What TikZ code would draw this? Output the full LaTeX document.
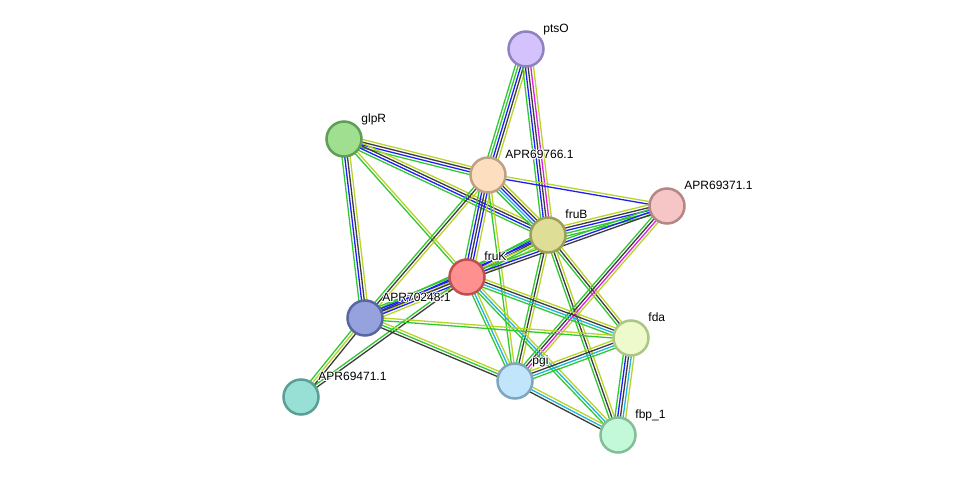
\documentclass[tikz,border=0pt]{standalone}
\usepackage{fontspec}
\setmainfont{Liberation Sans}
\usepackage{contour}
\contourlength{0.8pt}
\usetikzlibrary{calc,backgrounds}

\definecolor{lgreen}{RGB}{50,200,50}
\definecolor{lblue}{RGB}{30,30,250}
\definecolor{lblack}{RGB}{60,60,60}
\definecolor{lmag}{RGB}{225,30,225}
\definecolor{lcyan}{RGB}{30,180,220}
\definecolor{lyellow}{RGB}{185,212,40}

\tikzset{
  prot/.style={circle,draw,line width=2.5pt,minimum size=35pt,inner sep=0pt},
  lbl/.style={anchor=base west,inner sep=0pt,xshift=4pt,yshift=3pt,
    font=\fontsize{12}{14}\selectfont},
  strand/.style={line width=1.3pt}
}

% one bundle of parallel evidence lines between two proteins
\newcommand\evlink[3]{%
  \gdef\nlines{0}%
  \foreach \c in {#3}{\xdef\nlines{\the\numexpr\nlines+1\relax}}%
  \foreach \c [count=\i] in {#3}{%
    \pgfmathsetmacro\off{(\i-(\nlines+1)/2)*2.7}
    \draw[strand,\c] ($(#1)!\off pt!90:(#2)$) -- ($(#2)!\off pt!-90:(#1)$);
  }}
\newcommand\halo[1]{\contour{white}{#1}}

\begin{document}
\begin{tikzpicture}[x=1pt,y=-1pt]
\useasboundingbox (0,0) rectangle (975,481);

\node[prot,fill={rgb,255:red,211;green,194;blue,251},draw={rgb,255:red,145;green,129;blue,192},label={[lbl]45:\halo{ptsO}}] (ptsO) at (526,49) {};
\node[prot,fill={rgb,255:red,160;green,223;blue,144},draw={rgb,255:red,94;green,158;blue,85},label={[lbl]45:\halo{glpR}}] (glpR) at (344,139) {};
\node[prot,fill={rgb,255:red,253;green,223;blue,192},draw={rgb,255:red,189;green,160;blue,135},label={[lbl]45:\halo{APR69766.1}}] (a766) at (488,175) {};
\node[prot,fill={rgb,255:red,246;green,198;blue,198},draw={rgb,255:red,181;green,134;blue,134},label={[lbl]45:\halo{APR69371.1}}] (a371) at (667,206) {};
\node[prot,fill={rgb,255:red,222;green,222;blue,150},draw={rgb,255:red,158;green,158;blue,90},label={[lbl]45:\halo{fruB}}] (fruB) at (548,235) {};
\node[prot,fill={rgb,255:red,254;green,144;blue,144},draw={rgb,255:red,191;green,80;blue,80},label={[lbl]45:\halo{fruK}}] (fruK) at (467,277) {};
\node[prot,fill={rgb,255:red,150;green,162;blue,221},draw={rgb,255:red,88;green,102;blue,161},label={[lbl]45:\halo{APR70248.1}}] (a248) at (365,318) {};
\node[prot,fill={rgb,255:red,238;green,249;blue,204},draw={rgb,255:red,170;green,199;blue,133},label={[lbl]45:\halo{fda}}] (fda) at (631,338) {};
\node[prot,fill={rgb,255:red,193;green,229;blue,250},draw={rgb,255:red,127;green,166;blue,190},label={[lbl]45:\halo{pgi}}] (pgi) at (515,381) {};
\node[prot,fill={rgb,255:red,152;green,224;blue,213},draw={rgb,255:red,91;green,158;blue,147},label={[lbl]45:\halo{APR69471.1}}] (a471) at (301,397) {};
\node[prot,fill={rgb,255:red,195;green,249;blue,216},draw={rgb,255:red,131;green,190;blue,152},label={[lbl]45:\halo{fbp\_1}}] (fbp) at (618,435) {};

\begin{pgfonlayer}{background}
\evlink{ptsO}{a766}{lgreen,lgreen,lblue,lblack,lyellow}
\evlink{ptsO}{fruB}{lgreen,lblue,lblack,lmag,lyellow}
\evlink{glpR}{a766}{lgreen,lblue,lblack,lyellow}
\evlink{glpR}{fruB}{lgreen,lblue,lblack,lyellow}
\evlink{glpR}{fruK}{lgreen,lyellow}
\evlink{glpR}{a248}{lgreen,lblue,lblack,lyellow}
\evlink{a766}{a371}{lblue,lyellow}
\evlink{a766}{fruB}{lgreen,lcyan,lblue,lblack,lyellow}
\evlink{a766}{fruK}{lgreen,lblue,lblack,lblue,lyellow}
\evlink{a766}{a248}{lgreen,lblack,lyellow}
\evlink{a766}{pgi}{lgreen,lyellow}
\evlink{fruB}{a371}{lgreen,lgreen,lblue,lblack,lyellow}
\evlink{fruB}{fruK}{lgreen,lblue,lblack,lgreen,lyellow}
\evlink{fruB}{a248}{lgreen,lblue,lyellow}
\evlink{fruB}{fda}{lgreen,lblack,lyellow}
\evlink{fruB}{pgi}{lgreen,lblack,lyellow}
\evlink{fruB}{fbp}{lgreen,lblack,lyellow}
\evlink{a371}{pgi}{lgreen,lblack,lmag,lyellow}
\evlink{a371}{fruK}{lgreen,lblue,lblack}
\evlink{fruK}{a248}{lgreen,lblue,lblack,lblue,lyellow}
\evlink{fruK}{a471}{lgreen,lblack}
\evlink{fruK}{fda}{lgreen,lcyan,lblack,lyellow}
\evlink{fruK}{pgi}{lgreen,lcyan,lyellow}
\evlink{fruK}{fbp}{lgreen,lcyan,lyellow}
\evlink{a248}{a471}{lgreen,lyellow,lblack}
\evlink{a248}{fda}{lgreen,lyellow}
\evlink{a248}{pgi}{lblack,lgreen,lyellow}
\evlink{pgi}{fda}{lgreen,lcyan,lblack,lyellow}
\evlink{pgi}{fbp}{lblack,lcyan,lyellow}
\evlink{fda}{fbp}{lgreen,lblue,lblack,lcyan,lyellow}
\end{pgfonlayer}

\end{tikzpicture}
\end{document}
